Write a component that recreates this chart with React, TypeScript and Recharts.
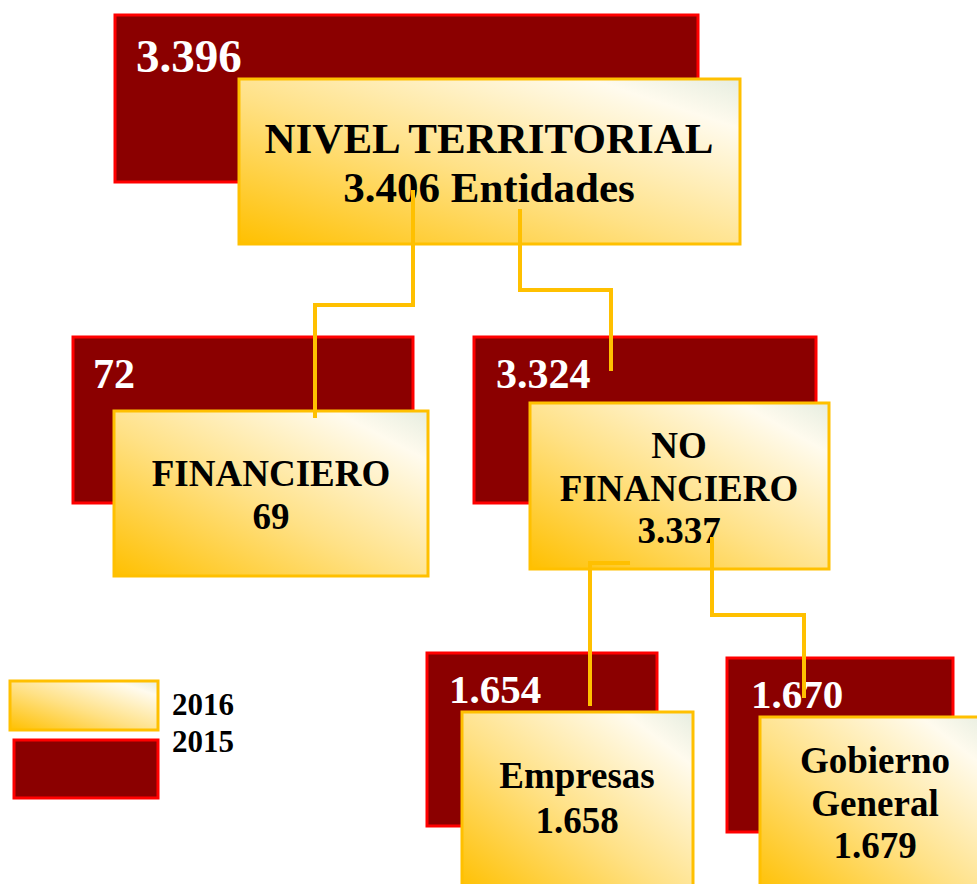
import { Scatter, ScatterChart, XAxis, YAxis } from "recharts";

// entity counts per node (2016 = gold boxes, 2015 = dark red boxes)
const nodeNames = [["NIVEL TERRITORIAL"], ["FINANCIERO"], ["NO", "FINANCIERO"], ["Empresas"], ["Gobierno", "General"]];
const nodeSuffix = [" Entidades", "", "", "", ""];
const entities2016 = [3406, 69, 3337, 1658, 1679];
const entities2015 = [3396, 72, 3324, 1654, 1670];
const legendYears = ["2016", "2015"];

// layout, in chart units (1 unit = 1px)
const redBoxes = [
  [115, 15, 583, 167],
  [73, 337, 340, 166],
  [474, 337, 342, 166],
  [427, 653, 230, 173],
  [727, 658, 226, 174],
];
const goldBoxes = [
  [239, 79, 501, 165],
  [114, 411, 314, 165],
  [530, 403, 299, 166],
  [462, 712, 231, 180],
  [760, 717, 230, 180],
];
// [x, baseline, fontSize]
const redText = [
  [136, 72, 47],
  [93, 388, 42],
  [496, 388, 42],
  [449, 703, 41],
  [751, 708, 41],
];
// [centerX, firstBaseline, lineHeight, fontSize]
const goldText = [
  [489, 153, 49, 43],
  [271, 486, 43, 37],
  [679, 458, 42.5, 37],
  [577, 788, 45, 37],
  [875, 773, 42.5, 37],
];
const links = [
  [[413, 190], [413, 305], [315, 305], [315, 418]],
  [[520, 209], [520, 290], [611, 290], [611, 371]],
  [[630, 563], [590, 563], [590, 706]],
  [[712, 537], [712, 615], [804, 615], [804, 698]],
];
const legendBoxes = [
  [10, 681, 148, 49],
  [14, 740, 144, 58],
];
const legendText = [[172, 715], [172, 752]];

const FONT = "'Liberation Serif', 'Times New Roman', serif";
const GOLD = "#FFC000";

const fmt = (n: number) =>
  n >= 1000 ? `${Math.floor(n / 1000)}.${String(n % 1000).padStart(3, "0")}` : String(n);

const redData = entities2015.map((v, i) => ({
  x: redBoxes[i][0],
  y: redBoxes[i][1],
  w: redBoxes[i][2],
  h: redBoxes[i][3],
  label: fmt(v),
  tx: redText[i][0] - redBoxes[i][0],
  ty: redText[i][1] - redBoxes[i][1],
  fs: redText[i][2],
}));

const goldData = entities2016.map((v, i) => ({
  x: goldBoxes[i][0],
  y: goldBoxes[i][1],
  w: goldBoxes[i][2],
  h: goldBoxes[i][3],
  lines: [...nodeNames[i], fmt(v) + nodeSuffix[i]],
  tx: goldText[i][0] - goldBoxes[i][0],
  ty: goldText[i][1] - goldBoxes[i][1],
  lh: goldText[i][2],
  fs: goldText[i][3],
  idx: i,
}));

const legendData = legendYears.map((year, i) => ({
  x: legendBoxes[i][0],
  y: legendBoxes[i][1],
  w: legendBoxes[i][2],
  h: legendBoxes[i][3],
  year,
  tx: legendText[i][0] - legendBoxes[i][0],
  ty: legendText[i][1] - legendBoxes[i][1],
  idx: i,
}));

const linkData = links.map((pts) => pts.map(([x, y]) => ({ x, y })));

function GoldGradient({ id }: { id: string }) {
  return (
    <defs>
      <linearGradient id={id} x1="0" y1="1" x2="1" y2="0">
        <stop offset="0%" stopColor="#FFC000" />
        <stop offset="45%" stopColor="#FFE186" />
        <stop offset="85%" stopColor="#FFFBEE" />
        <stop offset="100%" stopColor="#E6EDE0" />
      </linearGradient>
    </defs>
  );
}

function RedBox(props: any) {
  const { cx, cy, payload } = props;
  return (
    <g>
      <rect x={cx} y={cy} width={payload.w} height={payload.h} fill="#8B0000" stroke="#FF0000" strokeWidth={3} />
      <text
        x={cx + payload.tx}
        y={cy + payload.ty}
        fill="#fff"
        fontFamily={FONT}
        fontWeight="bold"
        fontSize={payload.fs}
      >
        {payload.label}
      </text>
    </g>
  );
}

function GoldBox(props: any) {
  const { cx, cy, payload } = props;
  const id = `goldGrad${payload.idx}`;
  return (
    <g>
      <GoldGradient id={id} />
      <rect x={cx} y={cy} width={payload.w} height={payload.h} fill={`url(#${id})`} stroke={GOLD} strokeWidth={3} />
      {payload.lines.map((line: string, j: number) => (
        <text
          key={j}
          x={cx + payload.tx}
          y={cy + payload.ty + j * payload.lh}
          textAnchor="middle"
          fill="#000"
          fontFamily={FONT}
          fontWeight="bold"
          fontSize={payload.fs}
        >
          {line}
        </text>
      ))}
    </g>
  );
}

function LegendItem(props: any) {
  const { cx, cy, payload } = props;
  const isGold = payload.idx === 0;
  const id = `legendGrad${payload.idx}`;
  return (
    <g>
      {isGold && <GoldGradient id={id} />}
      <rect
        x={cx}
        y={cy}
        width={payload.w}
        height={payload.h}
        fill={isGold ? `url(#${id})` : "#8B0000"}
        stroke={isGold ? GOLD : "#FF0000"}
        strokeWidth={3}
      />
      <text x={cx + payload.tx} y={cy + payload.ty} fill="#000" fontFamily={FONT} fontWeight="bold" fontSize={31}>
        {payload.year}
      </text>
    </g>
  );
}

const noDot = () => <g />;

export default function App() {
  return (
    <div style={{ width: 977, height: 884, background: "#fff" }}>
      <style>{"body{margin:0}"}</style>
      <ScatterChart width={977} height={884} margin={{ top: 0, right: 0, bottom: 0, left: 0 }}>
        <XAxis type="number" dataKey="x" domain={[0, 977]} allowDataOverflow hide />
        <YAxis type="number" dataKey="y" domain={[0, 884]} allowDataOverflow reversed hide />
        <Scatter data={redData} shape={RedBox} isAnimationActive={false} />
        <Scatter data={goldData} shape={GoldBox} isAnimationActive={false} />
        {linkData.map((pts, i) => (
          <Scatter
            key={i}
            data={pts}
            line={{ stroke: GOLD, strokeWidth: 4 }}
            lineType="joint"
            shape={noDot}
            isAnimationActive={false}
          />
        ))}
        <Scatter data={legendData} shape={LegendItem} isAnimationActive={false} />
      </ScatterChart>
    </div>
  );
}
